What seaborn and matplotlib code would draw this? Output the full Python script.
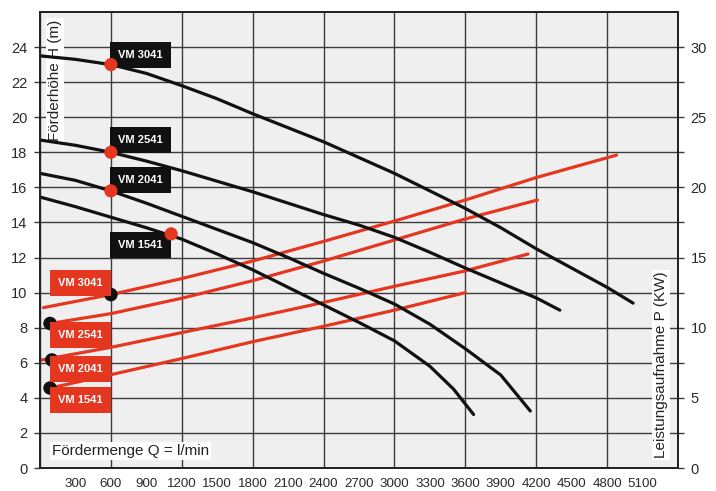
import matplotlib
matplotlib.use('Agg')
import matplotlib.pyplot as plt
import numpy as np
import pandas as pd
import seaborn as sns
from matplotlib.ticker import FixedLocator, MultipleLocator

# pump models
models = ['VM 3041', 'VM 2541', 'VM 2041', 'VM 1541']

# Förderhöhe H (m) against Fördermenge Q (l/min)
q_h_3041 = [0, 300, 600, 900, 1200, 1500, 1800, 2100, 2400, 2700, 3000, 3300, 3600, 3900, 4200, 4500, 4800, 5020]
h_3041 = [23.5, 23.3, 23.0, 22.5, 21.8, 21.05, 20.2, 19.4, 18.6, 17.7, 16.8, 15.8, 14.8, 13.7, 12.5, 11.4, 10.3, 9.4]
q_h_2541 = [0, 300, 600, 900, 1200, 1500, 1800, 2100, 2400, 2700, 3000, 3300, 3600, 3900, 4200, 4400]
h_2541 = [18.7, 18.4, 18.0, 17.5, 16.95, 16.35, 15.75, 15.1, 14.45, 13.85, 13.15, 12.3, 11.4, 10.55, 9.7, 9.0]
q_h_2041 = [0, 300, 600, 900, 1200, 1500, 1800, 2100, 2400, 2700, 3000, 3300, 3600, 3900, 4150]
h_2041 = [16.8, 16.4, 15.8, 15.1, 14.35, 13.6, 12.85, 12.0, 11.1, 10.25, 9.35, 8.2, 6.8, 5.3, 3.25]
q_h_1541 = [0, 300, 600, 900, 1200, 1500, 1800, 2100, 2400, 2700, 3000, 3300, 3500, 3670]
h_1541 = [15.45, 14.9, 14.3, 13.7, 13.05, 12.2, 11.3, 10.3, 9.3, 8.3, 7.25, 5.8, 4.5, 3.05]

# Leistungsaufnahme P (kW) against Q
q_p_3041 = [30, 600, 1200, 1800, 2400, 3000, 3600, 4200, 4880]
p_3041 = [11.43, 12.36, 13.5, 14.75, 16.15, 17.6, 19.1, 20.7, 22.3]
q_p_2541 = [85, 600, 1200, 1800, 2400, 3000, 3600, 4210]
p_2541 = [10.3, 11.0, 12.1, 13.35, 14.75, 16.25, 17.75, 19.1]
q_p_2041 = [0, 600, 1200, 1800, 2400, 3000, 3600, 4130]
p_2041 = [7.68, 8.6, 9.65, 10.7, 11.8, 12.95, 14.05, 15.25]
q_p_1541 = [85, 600, 1200, 1800, 2400, 3000, 3600]
p_1541 = [5.7, 6.65, 7.8, 9.0, 10.1, 11.25, 12.5]

# marker dots
red_dot_q = [600, 600, 600, 1110]
red_dot_h = [23.0, 18.0, 15.8, 13.35]
black_dot_q = [600, 85, 100, 85]
black_dot_p = [12.36, 10.3, 7.7, 5.7]

x_ticks = list(range(300, 5101, 300))
h_ticks = list(range(0, 25, 2))
p_ticks = list(range(0, 31, 5))

head = pd.concat([
    pd.DataFrame({'model': m, 'Q': q, 'H': h})
    for m, q, h in zip(models, [q_h_3041, q_h_2541, q_h_2041, q_h_1541],
                       [h_3041, h_2541, h_2041, h_1541])
])
power = pd.concat([
    pd.DataFrame({'model': m, 'Q': q, 'P': p})
    for m, q, p in zip(models, [q_p_3041, q_p_2541, q_p_2041, q_p_1541],
                       [p_3041, p_2541, p_2041, p_1541])
])

sns.set_style('white')
plt.rcParams['font.family'] = ['Liberation Sans', 'DejaVu Sans']

RED = '#e5371f'
INK = '#111111'
GRID = '#3c3c3c'

fig = plt.figure(figsize=(7.16, 4.91), dpi=100)
ax = fig.add_axes([40 / 716, 1 - 468 / 491, 638 / 716, 456 / 491])
ax2 = ax.twinx()
ax.set_zorder(2)
ax2.set_zorder(1)
ax.patch.set_visible(False)
ax2.patch.set_visible(True)
ax2.patch.set_facecolor('#efefef')

ax.set_xlim(0, 5400)
ax.set_ylim(0, 26)
ax2.set_ylim(0, 32.5)

# power curves (right axis), under the head curves
sns.lineplot(data=power, x='Q', y='P', units='model', estimator=None, sort=False,
             color=RED, lw=2.3, ax=ax2, legend=False)
sns.scatterplot(x=black_dot_q, y=black_dot_p, color=INK, s=95, edgecolor='none',
                ax=ax2, zorder=5, clip_on=False)

# head curves (left axis)
sns.lineplot(data=head, x='Q', y='H', units='model', estimator=None, sort=False,
             color=INK, lw=2.3, ax=ax, legend=False)
sns.scatterplot(x=red_dot_q, y=red_dot_h, color=RED, s=90, edgecolor='none',
                ax=ax, zorder=8)

# grid lives on the lower axes so the curves sit on top of it
ax2.xaxis.set_visible(True)
ax.xaxis.set_major_locator(FixedLocator(x_ticks))
ax.xaxis.set_minor_locator(MultipleLocator(600))
ax2.xaxis.remove_overlapping_locs = False
ax.xaxis.remove_overlapping_locs = False
ax2.xaxis.grid(True, which='minor', color=GRID, lw=1.0)
ax2.xaxis.grid(False, which='major')
ax2.yaxis.set_major_locator(FixedLocator(p_ticks))
ax2.yaxis.set_minor_locator(FixedLocator([2.5 + 5 * i for i in range(6)]))
ax2.yaxis.grid(True, which='both', color=GRID, lw=1.0)
ax2.tick_params(axis='x', which='both', length=0, labelbottom=False)

ax.yaxis.set_major_locator(FixedLocator(h_ticks))
ax.tick_params(axis='y', length=4, width=1, color=GRID, labelsize=10.5,
               labelcolor='#2a2a2a', pad=5, left=True)
ax.tick_params(axis='x', which='both', length=0, labelsize=9.6,
               labelcolor='#2a2a2a', pad=7, bottom=True)
ax2.tick_params(axis='y', which='both', length=4, width=1, color=GRID,
                labelsize=10.5, labelcolor='#2a2a2a', pad=5, right=True)
ax.set_xlabel('')
ax.set_ylabel('')
ax2.set_xlabel('')
ax2.set_ylabel('')

for a in (ax, ax2):
    for s in a.spines.values():
        s.set_color('#222222')
        s.set_linewidth(1.3)

# axis titles drawn inside the frame
txt = dict(color='#222222', fontsize=11,
           bbox=dict(boxstyle='square,pad=0.12', fc='white', ec='none'))
ax.text(0.0235, 0.982, 'Förderhöhe H (m)', transform=ax.transAxes,
        rotation=90, ha='center', va='top', zorder=1, **txt)
ax.text(0.973, 0.022, 'Leistungsaufnahme P (KW)', transform=ax.transAxes,
        rotation=90, ha='center', va='bottom', zorder=1, **txt)
ax.text(0.019, 0.037, 'Fördermenge Q = l/min', transform=ax.transAxes,
        ha='left', va='center', zorder=1, **txt)

# model tags
tag = dict(color='white', fontsize=8, fontweight='bold', ha='center', va='center', zorder=6)
for m, y in zip(models, [23.57, 18.7, 16.42, 12.71]):
    ax.text(851, y, m, bbox=dict(boxstyle='square,pad=0.72', fc=INK, ec='none'), **tag)
for m, y in zip(models, [10.52, 7.58, 5.67, 3.88]):
    ax.text(342, y, m, bbox=dict(boxstyle='square,pad=0.72', fc=RED, ec='none'), **tag)

fig.savefig('out.png', dpi=100)
